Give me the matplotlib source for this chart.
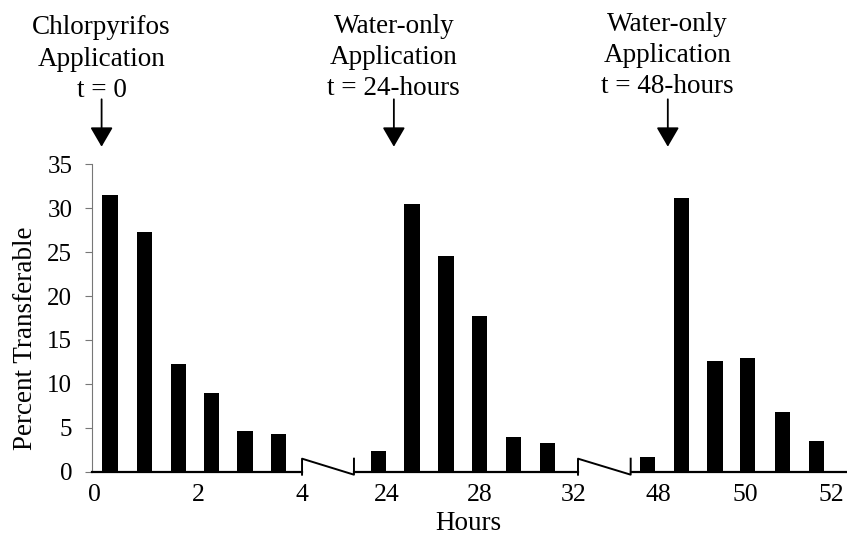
import matplotlib
matplotlib.use("Agg")
import matplotlib.pyplot as plt
from matplotlib.lines import Line2D

plt.rcParams["font.family"] = ["Liberation Serif", "DejaVu Serif"]

# sampling times (hours) and percent transferable, one list per application
hours_0 = [0.30, 0.96, 1.62, 2.26, 2.90, 3.55]
pct_0 = [31.5, 27.3, 12.3, 9.0, 4.6, 4.3]
hours_24 = [23.66, 25.09, 26.54, 27.97, 29.45, 30.89]
pct_24 = [2.4, 30.5, 24.6, 17.7, 3.9, 3.3]
hours_48 = [47.74, 48.52, 49.30, 50.06, 50.86, 51.66]
pct_48 = [1.7, 31.2, 12.6, 12.9, 6.75, 3.45]

xticks_0 = [0, 2, 4]
xticks_24 = [24, 28, 32]
xticks_48 = [48, 50, 52]
yticks = [0, 5, 10, 15, 20, 25, 30, 35]

app_labels = [
    "Chlorpyrifos\nApplication\nt = 0",
    "Water-only\nApplication\nt = 24-hours",
    "Water-only\nApplication\nt = 48-hours",
]
app_times = [0.14, 24.31, 48.21]

W, H = 847, 536
fig = plt.figure(figsize=(W / 100, H / 100), dpi=100)

bottom = 0.120
height = 0.5735
ax1 = fig.add_axes([0.1083, bottom, 0.2483, height])
ax2 = fig.add_axes([0.4179, bottom, 0.2645, height])
ax3 = fig.add_axes([0.7446, bottom, 0.2554, height])

panels = [
    (ax1, hours_0, pct_0, 0.294, (-0.05, 4.0), xticks_0),
    (ax2, hours_24, pct_24, 0.656, (22.6, 32.2), xticks_24),
    (ax3, hours_48, pct_48, 0.354, (47.35, 52.36), xticks_48),
]

for ax, x, y, w, xlim, ticks in panels:
    ax.bar(x, y, width=w, color="black")
    ax.set_xlim(*xlim)
    ax.set_ylim(0, 35)
    ax.set_xticks(ticks)
    ax.tick_params(axis="x", length=0, pad=9, labelsize=18.5)
    for s in ["top", "right", "left"]:
        ax.spines[s].set_visible(False)
    ax.spines["bottom"].set_linewidth(1.6)
    ax.patch.set_alpha(0)
    if ax is not ax1:
        ax.set_yticks([])

ax1.spines["left"].set_visible(True)
ax1.spines["left"].set_color("#777777")
ax1.spines["left"].set_linewidth(0.8)
ax1.set_yticks(yticks)
ax1.tick_params(axis="y", length=5, width=0.8, color="#777777", pad=9, labelsize=18)
ax1.set_ylabel("Percent Transferable", fontsize=19.5)
ax1.yaxis.set_label_coords(-0.255, 0.434)

fig.text(468.7 / W, 0.0, "Hours", ha="center", va="bottom", fontsize=19.5)

# application arrows and labels
text_y = [42.0, 42.2, 42.4]
for ax, t, lab, ty in zip([ax1, ax2, ax3], app_times, app_labels, text_y):
    ax.annotate("", xy=(t, 37.0), xytext=(t, 42.4),
                arrowprops=dict(arrowstyle="-|>,head_length=1.2,head_width=0.7",
                                color="black", lw=1.3, shrinkA=0, shrinkB=0),
                annotation_clip=False)
    ax.text(t, ty, lab, ha="center", va="bottom", fontsize=19.5,
            linespacing=1.33, clip_on=False)

# axis break marks between panels
dy_up = 13 / H
dy_dn = 3 / H
for left, right in [(ax1, ax2), (ax2, ax3)]:
    x0 = left.get_position().x1
    x1 = right.get_position().x0
    xs = [x0, x0, x1, x1]
    ys = [bottom - dy_dn, bottom + dy_up, bottom - dy_dn, bottom + dy_up]
    fig.add_artist(Line2D(xs, ys, transform=fig.transFigure,
                          color="black", lw=1.4))

fig.savefig("out.png", dpi=100)
